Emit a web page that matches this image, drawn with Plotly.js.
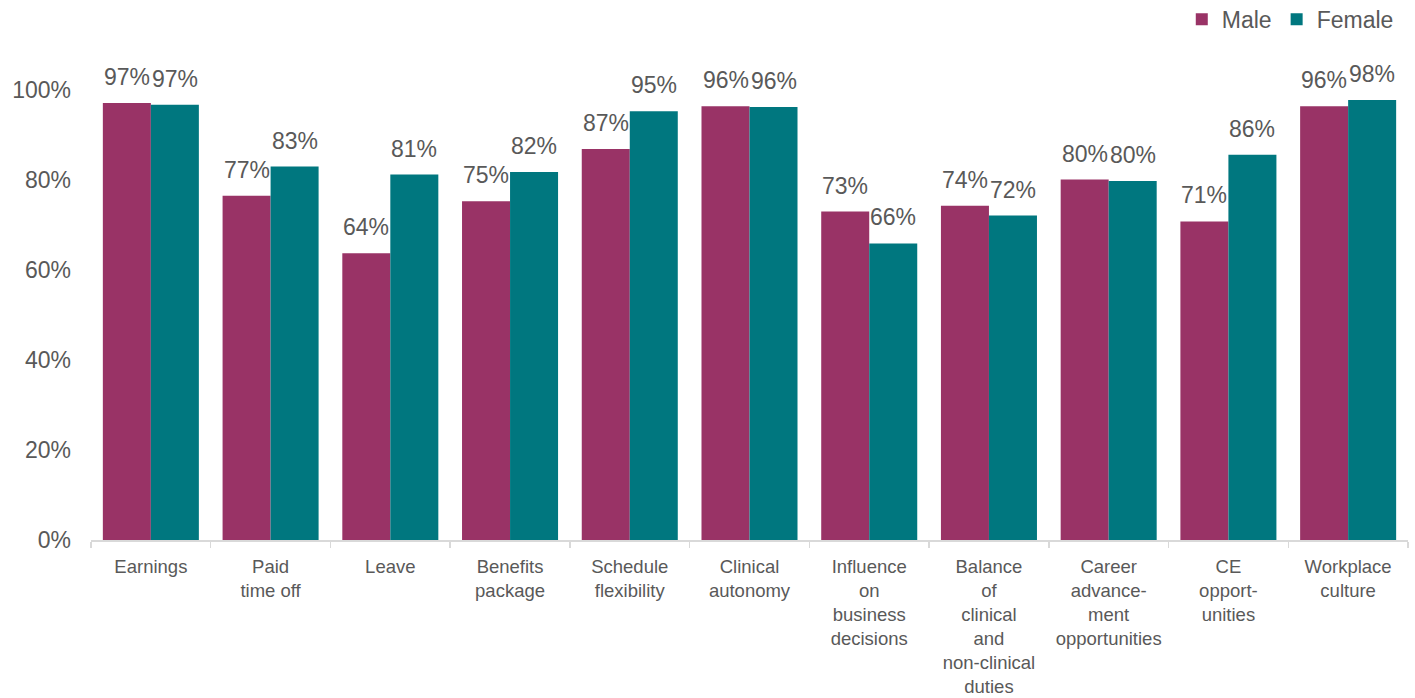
<!DOCTYPE html>
<html>
<head>
<meta charset="utf-8">
<script src="https://cdn.plot.ly/plotly-3.0.1.min.js"></script>
<style>html,body{margin:0;padding:0;background:#fff;}#chart{width:1415px;height:698px;}</style>
</head>
<body>
<div id="chart"></div>
<script>
const categories = [
  "Earnings",
  "Paid<br>time off",
  "Leave",
  "Benefits<br>package",
  "Schedule<br>flexibility",
  "Clinical<br>autonomy",
  "Influence<br>on<br>business<br>decisions",
  "Balance<br>of<br>clinical<br>and<br>non-clinical<br>duties",
  "Career<br>advance-<br>ment<br>opportunities",
  "CE<br>opport-<br>unities",
  "Workplace<br>culture"
];
const maleValues   = [97.1, 76.5, 63.7, 75.3, 86.9, 96.4, 73.0, 74.3, 80.1, 70.8, 96.4];
const femaleValues = [96.7, 83.0, 81.2, 81.8, 95.3, 96.2, 65.9, 72.1, 79.8, 85.6, 97.8];
const maleLabels   = ["97%","77%","64%","75%","87%","96%","73%","74%","80%","71%","96%"];
const femaleLabels = ["97%","83%","81%","82%","95%","96%","66%","72%","80%","86%","98%"];
const yTickVals = [0, 20, 40, 60, 80, 100];
const yTickText = ["0%", "20%", "40%", "60%", "80%", "100%"];

const maleColor = "#993366";
const femaleColor = "#00777f";
const textColor = "#595959";
const font = "Liberation Sans, Arial, sans-serif";

const traces = [
  {type: "bar", name: "Male", x: categories, y: maleValues,
   marker: {color: maleColor}, hoverinfo: "skip"},
  {type: "bar", name: "Female", x: categories, y: femaleValues,
   marker: {color: femaleColor}, hoverinfo: "skip"}
];

const annotations = [];
categories.forEach((c, i) => {
  annotations.push({x: c, y: maleValues[i], text: maleLabels[i], xref: "x", yref: "y",
    showarrow: false, yanchor: "bottom", xanchor: "center", xshift: -24, yshift: 11,
    font: {family: font, size: 23, color: textColor}});
  annotations.push({x: c, y: femaleValues[i], text: femaleLabels[i], xref: "x", yref: "y",
    showarrow: false, yanchor: "bottom", xanchor: "center", xshift: 24, yshift: 11,
    font: {family: font, size: 23, color: textColor}});
});

const layout = {
  width: 1415, height: 698,
  margin: {l: 91, r: 7, t: 90, b: 158, autoexpand: false},
  paper_bgcolor: "#fff", plot_bgcolor: "#fff",
  barmode: "group", bargap: 0.198, bargroupgap: 0,
  font: {family: font, color: textColor},
  showlegend: true,
  legend: {orientation: "h", x: 0.993, xanchor: "right", y: 1.157, yanchor: "middle",
    font: {family: font, size: 23, color: textColor}, traceorder: "normal"},
  xaxis: {
    type: "category", showline: true, linecolor: "#d9d9d9", linewidth: 1.5,
    ticks: "outside", tickson: "boundaries", ticklen: 6, tickcolor: "#d9d9d9", tickwidth: 1.5,
    tickangle: 0, automargin: false, ticklabelstandoff: 9,
    tickfont: {family: font, size: 18.5, color: textColor}, showgrid: false, zeroline: false
  },
  yaxis: {
    range: [0, 100], tickvals: yTickVals, ticktext: yTickText, automargin: false,
    showgrid: false, zeroline: false, showline: false, ticks: "",
    tickfont: {family: font, size: 23, color: textColor}, ticklabelstandoff: 19
  },
  annotations: annotations
};

Plotly.newPlot("chart", traces, layout, {displayModeBar: false, staticPlot: true});
</script>
</body>
</html>
